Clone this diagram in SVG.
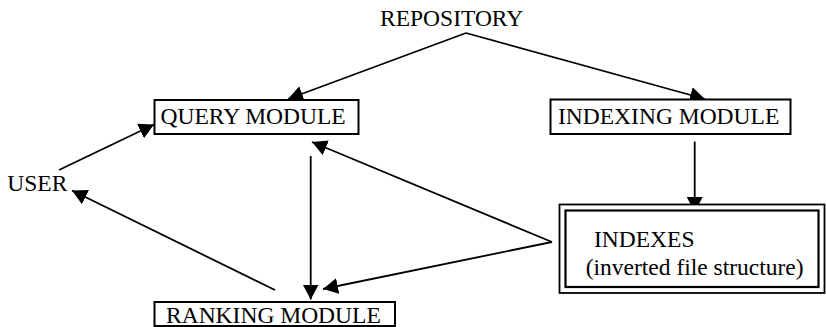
<svg xmlns="http://www.w3.org/2000/svg" width="826" height="327" viewBox="0 0 826 327">
<defs>
<marker id="ah" markerUnits="userSpaceOnUse" markerWidth="18" markerHeight="18" refX="15" refY="8" orient="auto">
<path d="M0,0 L15,8 L0,16 z" fill="#000"/>
</marker>
<style>
text{font-family:"Liberation Serif","Times New Roman",serif;font-size:23.5px;fill:#000}
.box{fill:#fff;stroke:#000;stroke-width:2}
.edge{fill:none;stroke:#000;stroke-width:1.8}
.arr{marker-end:url(#ah)}
</style>
</defs>
<rect width="826" height="327" fill="#fff"/>
<g id="connectors">
<path class="edge arr" d="M466,33 L288,99"/>
<path class="edge arr" d="M466,33 L705,99"/>
<path class="edge arr" d="M59,170 L154,124.5"/>
<path class="edge arr" d="M275,290 L72,190.5"/>
<path class="edge arr" d="M310.7,156 L310.7,299.5"/>
<path class="edge arr" d="M694.7,141.5 L694.7,212"/>
<path class="edge arr" d="M552,242 L312,142"/>
<path class="edge arr" d="M552,242 L323,289"/>
</g>
<g id="repository">
<text x="380" y="26">REPOSITORY</text>
</g>
<g id="query">
<rect class="box" x="154.5" y="100" width="204" height="34"/>
<text x="160.5" y="124.3">QUERY MODULE</text>
</g>
<g id="indexing">
<rect class="box" x="550.5" y="99.5" width="240" height="34.5"/>
<text x="558" y="124.3">INDEXING MODULE</text>
</g>
<g id="user">
<text x="7.3" y="190.7">USER</text>
</g>
<g id="ranking">
<rect class="box" x="154.5" y="302" width="240.5" height="24"/>
<text x="166" y="323.3">RANKING MODULE</text>
</g>
<g id="indexes">
<rect x="559.5" y="204.5" width="265" height="88.5" fill="#fff" stroke="#000" stroke-width="1.8"/>
<rect x="565.5" y="210.5" width="253" height="76.5" fill="none" stroke="#000" stroke-width="2.2"/>
<text x="594" y="246.7">INDEXES</text>
<text x="585.7" y="274.5">(inverted file structure)</text>
</g>
</svg>
